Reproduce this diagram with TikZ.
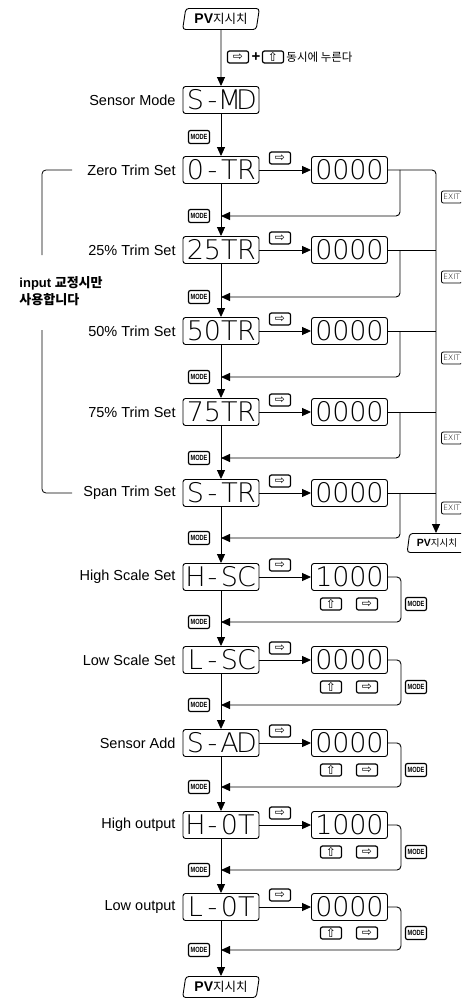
\documentclass[tikz,border=0pt]{standalone}
\usepackage{fontspec}
\setmainfont{Liberation Sans}
\newfontfamily\kr{Noto Sans CJK KR}
\newfontfamily\symf{DejaVu Sans}
\IfFontExistsTF{DejaVu Sans ExtraLight}{\newfontfamily\lcdf{DejaVu Sans ExtraLight}}{\newfontfamily\lcdf{DejaVu Sans}}
\usetikzlibrary{arrows.meta,shapes.geometric}
\newcommand{\seg}[4]{\makebox[17pt]{#1}\makebox[17pt]{#2}\makebox[17pt]{#3}\makebox[17pt]{#4}}
\newcommand{\pvtext}{\textbf{PV}{\kr\fontsize{12.5}{13}\selectfont 지시치}}
\newcommand{\pvsmall}{\textbf{PV}{\kr\fontsize{9.5}{10}\selectfont 지시치}}

\tikzset{
	disp/.style={draw, rounded corners=2.5pt, line width=0.9pt, minimum width=76pt, minimum height=27pt, inner sep=0pt, font=\lcdf\fontsize{27}{27}\selectfont},
	lab/.style={anchor=east, inner sep=0pt, font=\fontsize{14.5}{16}\selectfont},
	key/.style={draw, rounded corners=2pt, line width=1.2pt, minimum width=21pt, minimum height=12pt, inner sep=0pt, font=\symf\fontsize{12}{12}\selectfont},
	modekey/.style={key, minimum height=13pt, font=\bfseries\fontsize{7.5}{7.5}\selectfont},
	exitkey/.style={draw, rounded corners=2pt, line width=0.8pt, anchor=west, minimum height=12pt, inner ysep=1.5pt, inner xsep=2pt, font=\lcdf\fontsize{7.5}{7.5}\selectfont},
	pv/.style={trapezium, trapezium left angle=78, trapezium right angle=102, trapezium stretches=true, draw, rounded corners=3pt, line width=0.9pt, minimum width=77pt, minimum height=21pt, inner sep=0pt, font=\fontsize{14}{14}\selectfont},
	pvs/.style={pv, minimum width=60pt, minimum height=19pt, font=\fontsize{10.5}{10.5}\selectfont}
}
\newcommand{\md}{\scalebox{0.75}[1]{MODE}}

\begin{document}
\begin{tikzpicture}[x=1pt, y=-1pt, line width=0.9pt, >={Triangle[length=9pt,width=8pt]}]
	\useasboundingbox (0,0) rectangle (461,1000);
	\clip (0,0) rectangle (461,1000);

	% start
	\node[pv] (pv1) at (221,19) {\pvtext};
	\node[key] (k1) at (238,57) {⇨};
	\node (plus) at (256,57) {\bfseries\fontsize{15}{15}\selectfont +};
	\node[key] (k2) at (273,57) {⇧};
	\node[anchor=west, inner sep=0pt] (t1) at (286,57) {\kr\fontsize{11.5}{12}\selectfont 동시에 누른다};

	\node[lab] (l0) at (176,100) {Sensor Mode};
	\node[disp] (d0) at (221,100) {\seg{S}{-}{M}{D}};
	\node[modekey] (m0) at (199,137) {\md};

	% trim rows
	\node[lab] (l1) at (176,170) {Zero Trim Set};
	\node[disp] (d1) at (221,170) {\seg{0}{-}{T}{R}};
	\node[disp] (v1) at (349.5,170) {\seg{0}{0}{0}{0}};
	\node[key] (r1) at (280,158) {⇨};

	\node[lab] (l2) at (176,250) {25\% Trim Set};
	\node[disp] (d2) at (221,250) {\seg{2}{5}{T}{R}};
	\node[disp] (v2) at (349.5,250) {\seg{0}{0}{0}{0}};
	\node[key] (r2) at (280,238) {⇨};

	\node[lab] (l3) at (176,331) {50\% Trim Set};
	\node[disp] (d3) at (221,331) {\seg{5}{0}{T}{R}};
	\node[disp] (v3) at (349.5,331) {\seg{0}{0}{0}{0}};
	\node[key] (r3) at (280,319) {⇨};

	\node[lab] (l4) at (176,412) {75\% Trim Set};
	\node[disp] (d4) at (221,412) {\seg{7}{5}{T}{R}};
	\node[disp] (v4) at (349.5,412) {\seg{0}{0}{0}{0}};
	\node[key] (r4) at (280,400) {⇨};

	\node[lab] (l5) at (176,493) {Span Trim Set};
	\node[disp] (d5) at (221,493) {\seg{S}{-}{T}{R}};
	\node[disp] (v5) at (349.5,493) {\seg{0}{0}{0}{0}};
	\node[key] (r5) at (280,481) {⇨};

	\node[modekey] (m1) at (199,216) {\md};
	\node[modekey] (m2) at (199,297) {\md};
	\node[modekey] (m3) at (199,377) {\md};
	\node[modekey] (m4) at (199,458) {\md};
	\node[modekey] (m5) at (199,538) {\md};

	\node[exitkey] (e1) at (441,197) {EXIT};
	\node[exitkey] (e2) at (441,277) {EXIT};
	\node[exitkey] (e3) at (441,358) {EXIT};
	\node[exitkey] (e4) at (441,438) {EXIT};
	\node[exitkey] (e5) at (441,508) {EXIT};
	\node[pvs] (pv2) at (437,543) {\pvsmall};

	% scale and output rows
	\node[lab] (l6) at (176,577) {High Scale Set};
	\node[disp] (d6) at (221,577) {\seg{H}{-}{S}{C}};
	\node[disp] (v6) at (349.5,577) {\seg{1}{0}{0}{0}};
	\node[key] (r6) at (280,565) {⇨};

	\node[lab] (l7) at (176,660) {Low Scale Set};
	\node[disp] (d7) at (221,660) {\seg{L}{-}{S}{C}};
	\node[disp] (v7) at (349.5,660) {\seg{0}{0}{0}{0}};
	\node[key] (r7) at (280,648) {⇨};

	\node[lab] (l8) at (176,743) {Sensor Add};
	\node[disp] (d8) at (221,743) {\seg{S}{-}{A}{D}};
	\node[disp] (v8) at (349.5,743) {\seg{0}{0}{0}{0}};
	\node[key] (r8) at (280,731) {⇨};

	\node[lab] (l9) at (176,825) {High output};
	\node[disp] (d9) at (221,825) {\seg{H}{-}{0}{T}};
	\node[disp] (v9) at (349.5,825) {\seg{1}{0}{0}{0}};
	\node[key] (r9) at (280,813) {⇨};

	\node[lab] (l10) at (176,907) {Low output};
	\node[disp] (d10) at (221,907) {\seg{L}{-}{0}{T}};
	\node[disp] (v10) at (349.5,907) {\seg{0}{0}{0}{0}};
	\node[key] (r10) at (280,895) {⇨};

	\node[key] (u6) at (331,604) {⇧};  \node[key] (s6) at (367,604) {⇨};  \node[modekey] (q6) at (416,604) {\md};
	\node[key] (u7) at (331,687) {⇧};  \node[key] (s7) at (367,687) {⇨};  \node[modekey] (q7) at (416,687) {\md};
	\node[key] (u8) at (331,770) {⇧};  \node[key] (s8) at (367,770) {⇨};  \node[modekey] (q8) at (416,770) {\md};
	\node[key] (u9) at (331,852) {⇧};  \node[key] (s9) at (367,852) {⇨};  \node[modekey] (q9) at (416,852) {\md};
	\node[key] (u10) at (331,933) {⇧}; \node[key] (s10) at (367,933) {⇨}; \node[modekey] (q10) at (416,933) {\md};

	\node[modekey] (m6) at (199,622) {\md};
	\node[modekey] (m7) at (199,705) {\md};
	\node[modekey] (m8) at (199,787) {\md};
	\node[modekey] (m9) at (199,870) {\md};
	\node[modekey] (m10) at (199,950) {\md};

	\node[pv] (pv3) at (221,987) {\pvtext};

	% side note
	\node[anchor=west, inner sep=0pt, align=left, font=\bfseries\fontsize{13}{17}\selectfont] (note) at (19,291) {input {\kr 교정시만}\\{\kr 사용합니다}};
	\draw[line width=0.8pt, rounded corners=4pt] (72,170) -| (42,255);
	\draw[line width=0.8pt, rounded corners=4pt] (42,330) |- (72,493);

	% main column
	\draw[->] (pv1) -- (d0);
	\draw[->] (d0) -- (d1);
	\draw[->] (d1) -- (d2);
	\draw[->] (d2) -- (d3);
	\draw[->] (d3) -- (d4);
	\draw[->] (d4) -- (d5);
	\draw[->] (d5) -- (d6);
	\draw[->] (d6) -- (d7);
	\draw[->] (d7) -- (d8);
	\draw[->] (d8) -- (d9);
	\draw[->] (d9) -- (d10);
	\draw[->] (d10) -- (pv3);

	% to the value
	\draw[->] (d1) -- (v1);
	\draw[->] (d2) -- (v2);
	\draw[->] (d3) -- (v3);
	\draw[->] (d4) -- (v4);
	\draw[->] (d5) -- (v5);
	\draw[->] (d6) -- (v6);
	\draw[->] (d7) -- (v7);
	\draw[->] (d8) -- (v8);
	\draw[->] (d9) -- (v9);
	\draw[->] (d10) -- (v10);

	% exit line
	\coordinate (ex) at (436,533);
	\draw[->, rounded corners=4pt] (v1) -| (ex);
	\draw (v2) -- (v2 -| ex);
	\draw (v3) -- (v3 -| ex);
	\draw (v4) -- (v4 -| ex);
	\draw (v5) -- (v5 -| ex);

	% back to the column
	\draw[->, rounded corners=4pt] (400,170) |- (221,216);
	\draw[->, rounded corners=4pt] (400,250) |- (221,297);
	\draw[->, rounded corners=4pt] (400,331) |- (221,377);
	\draw[->, rounded corners=4pt] (400,412) |- (221,458);
	\draw[->, rounded corners=4pt] (400,493) |- (221,538);
	\draw[->, rounded corners=4pt] (v6.east) -- ++(13,0) |- (221,622);
	\draw[->, rounded corners=4pt] (v7.east) -- ++(13,0) |- (221,705);
	\draw[->, rounded corners=4pt] (v8.east) -- ++(13,0) |- (221,787);
	\draw[->, rounded corners=4pt] (v9.east) -- ++(13,0) |- (221,870);
	\draw[->, rounded corners=4pt] (v10.east) -- ++(13,0) |- (221,950);
\end{tikzpicture}
\end{document}
